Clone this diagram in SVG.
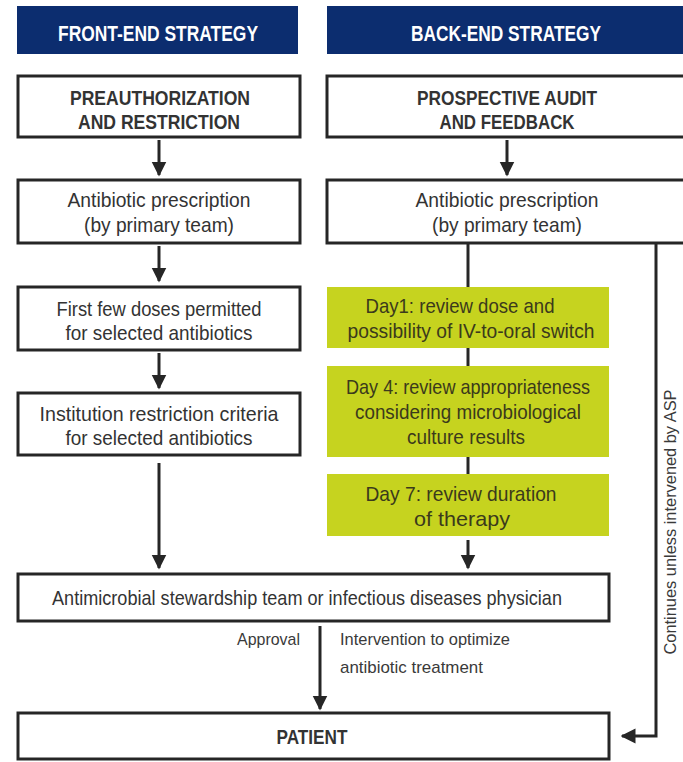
<svg xmlns="http://www.w3.org/2000/svg" width="683" height="762" viewBox="0 0 683 762">
<style>
.hdr{fill:#0c2d6f}
.hdrt{font-family:"Liberation Sans",Arial,sans-serif;font-weight:bold;font-size:22px;fill:#ffffff;text-anchor:middle}
.box{fill:#ffffff;stroke:#262626;stroke-width:3}
.gbox{fill:#c6d31f;stroke:none}
.t{font-family:"Liberation Sans",Arial,sans-serif;font-size:21px;fill:#333333;text-anchor:middle}
.tb{font-family:"Liberation Sans",Arial,sans-serif;font-size:21px;font-weight:bold;fill:#333333;text-anchor:middle}
.tg{font-family:"Liberation Sans",Arial,sans-serif;font-size:21px;fill:#3b3a1c;text-anchor:middle}
.ts{font-family:"Liberation Sans",Arial,sans-serif;font-size:17px;fill:#3a3a3a}
.ln{stroke:#262626;stroke-width:3;fill:none}
.ah{fill:#262626}
</style>
<defs>
<marker id="arr" viewBox="0 0 10 10" refX="9" refY="5" markerWidth="5" markerHeight="5.5" markerUnits="strokeWidth" orient="auto">
<path d="M0,0 L10,5 L0,10 z" class="ah"/>
</marker>
</defs>
<rect width="683" height="762" fill="#ffffff"/>

<g id="hdr-front">
<rect class="hdr" x="17" y="6" width="281" height="48"/>
<text class="hdrt" x="158" y="41" textLength="200" lengthAdjust="spacingAndGlyphs">FRONT-END STRATEGY</text>
</g>
<g id="hdr-back">
<rect class="hdr" x="327" y="6" width="370" height="48"/>
<text class="hdrt" x="506" y="41" textLength="190" lengthAdjust="spacingAndGlyphs">BACK-END STRATEGY</text>
</g>

<g id="preauth">
<rect class="box" x="18" y="76" width="282" height="61"/>
<text class="tb" x="160" y="105" textLength="180" lengthAdjust="spacingAndGlyphs">PREAUTHORIZATION</text>
<text class="tb" x="159" y="129" textLength="162" lengthAdjust="spacingAndGlyphs">AND RESTRICTION</text>
</g>
<g id="prospective">
<rect class="box" x="327" y="76" width="370" height="61"/>
<text class="tb" x="507" y="105" textLength="180" lengthAdjust="spacingAndGlyphs">PROSPECTIVE AUDIT</text>
<text class="tb" x="507" y="129" textLength="135" lengthAdjust="spacingAndGlyphs">AND FEEDBACK</text>
</g>

<g id="rx-front">
<rect class="box" x="18" y="180" width="282" height="63"/>
<text class="t" x="159" y="207" textLength="183" lengthAdjust="spacingAndGlyphs">Antibiotic prescription</text>
<text class="t" x="159" y="232" textLength="150" lengthAdjust="spacingAndGlyphs">(by primary team)</text>
</g>
<g id="rx-back">
<rect class="box" x="327" y="180" width="370" height="63"/>
<text class="t" x="507" y="207" textLength="183" lengthAdjust="spacingAndGlyphs">Antibiotic prescription</text>
<text class="t" x="507" y="232" textLength="150" lengthAdjust="spacingAndGlyphs">(by primary team)</text>
</g>

<g id="first-doses">
<rect class="box" x="18" y="287" width="282" height="63"/>
<text class="t" x="159" y="316" textLength="205" lengthAdjust="spacingAndGlyphs">First few doses permitted</text>
<text class="t" x="159" y="340" textLength="187" lengthAdjust="spacingAndGlyphs">for selected antibiotics</text>
</g>
<g id="restriction">
<rect class="box" x="18" y="393" width="282" height="62"/>
<text class="t" x="159" y="421" textLength="239" lengthAdjust="spacingAndGlyphs">Institution restriction criteria</text>
<text class="t" x="159" y="445" textLength="187" lengthAdjust="spacingAndGlyphs">for selected antibiotics</text>
</g>

<g id="day1">
<rect class="gbox" x="327" y="287" width="282" height="61"/>
<text class="tg" x="460" y="313" textLength="189" lengthAdjust="spacingAndGlyphs">Day1: review dose and</text>
<text class="tg" x="471" y="338" textLength="247" lengthAdjust="spacingAndGlyphs">possibility of IV-to-oral switch</text>
</g>
<g id="day4">
<rect class="gbox" x="327" y="366" width="282" height="91"/>
<text class="tg" x="468" y="394" textLength="244" lengthAdjust="spacingAndGlyphs">Day 4: review appropriateness</text>
<text class="tg" x="468" y="419" textLength="226" lengthAdjust="spacingAndGlyphs">considering microbiological</text>
<text class="tg" x="466" y="444" textLength="118" lengthAdjust="spacingAndGlyphs">culture results</text>
</g>
<g id="day7">
<rect class="gbox" x="327" y="474" width="282" height="62"/>
<text class="tg" x="461" y="501" textLength="191" lengthAdjust="spacingAndGlyphs">Day 7: review duration</text>
<text class="tg" x="462" y="526" textLength="96" lengthAdjust="spacingAndGlyphs">of therapy</text>
</g>

<g id="asp-team">
<rect class="box" x="18" y="574" width="591" height="47"/>
<text class="t" x="307" y="605" textLength="510" lengthAdjust="spacingAndGlyphs">Antimicrobial stewardship team or infectious diseases physician</text>
</g>

<g id="patient">
<rect class="box" x="18" y="713" width="591" height="46"/>
<text class="tb" x="312" y="744" textLength="71" lengthAdjust="spacingAndGlyphs">PATIENT</text>
</g>

<g id="connectors">
<line class="ln" x1="159" y1="140" x2="159" y2="175" marker-end="url(#arr)"/>
<line class="ln" x1="507" y1="140" x2="507" y2="175" marker-end="url(#arr)"/>
<line class="ln" x1="159" y1="246" x2="159" y2="281" marker-end="url(#arr)"/>
<line class="ln" x1="159" y1="353" x2="159" y2="388" marker-end="url(#arr)"/>
<line class="ln" x1="159" y1="463" x2="159" y2="568" marker-end="url(#arr)"/>
<line class="ln" x1="468" y1="243" x2="468" y2="287"/>
<line class="ln" x1="468" y1="348" x2="468" y2="366"/>
<line class="ln" x1="468" y1="457" x2="468" y2="474"/>
<line class="ln" x1="468" y1="540" x2="468" y2="568" marker-end="url(#arr)"/>
<line class="ln" x1="320" y1="626" x2="320" y2="709" marker-end="url(#arr)"/>
<polyline class="ln" points="656,243 656,736 622,736" marker-end="url(#arr)"/>
<text class="ts" x="300" y="645" text-anchor="end" textLength="63" lengthAdjust="spacingAndGlyphs">Approval</text>
<text class="ts" x="340" y="645" textLength="170" lengthAdjust="spacingAndGlyphs">Intervention to optimize</text>
<text class="ts" x="340" y="673" textLength="143" lengthAdjust="spacingAndGlyphs">antibiotic treatment</text>
<text class="ts" transform="translate(676,522) rotate(-90)" text-anchor="middle" textLength="265" lengthAdjust="spacingAndGlyphs">Continues unless intervened by ASP</text>
</g>
</svg>
